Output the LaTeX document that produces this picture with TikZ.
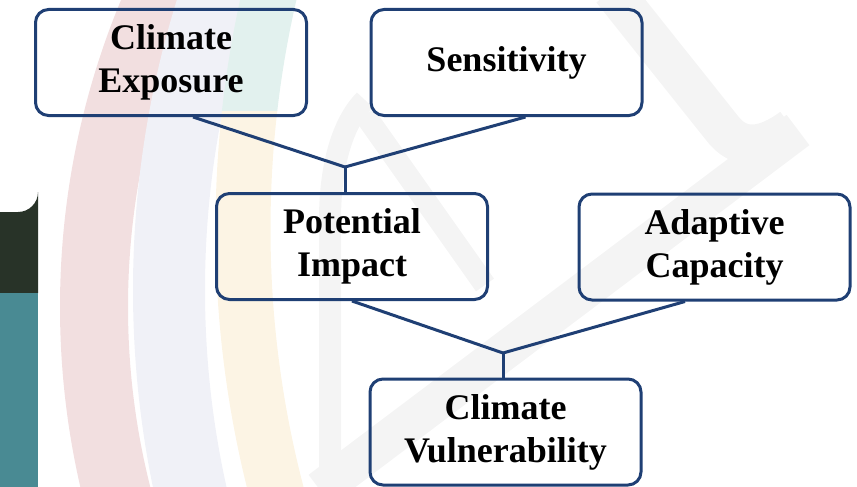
\documentclass[tikz,border=0pt]{standalone}
\usepackage{fontspec}
\setmainfont{Liberation Serif}
\usetikzlibrary{calc}
\definecolor{edgeblue}{HTML}{1F3F74}
\definecolor{wmpink}{HTML}{F2DFE0}
\definecolor{wmblue}{HTML}{F0F1F7}
\definecolor{wmyellow}{HTML}{FCF4E4}
\definecolor{wmteal}{HTML}{E2F1EE}
\definecolor{wmgray}{HTML}{F4F4F4}
\definecolor{blockdark}{HTML}{283328}
\definecolor{blockteal}{HTML}{498A93}
\begin{document}
\begin{tikzpicture}[x=1pt,y=-1pt,
  box/.style={draw=edgeblue, line width=3pt, rounded corners=13pt,
    minimum width=271pt, minimum height=106pt, align=center, inner sep=0pt,
    font=\fontsize{36}{43}\selectfont\bfseries},
  conn/.style={draw=edgeblue, line width=3pt},
  band/.style={line width=#1, line cap=butt}]
\useasboundingbox (0,0) rectangle (857,487);
\begin{scope}
\clip (0,0) rectangle (857,487);
% watermark rings
\draw[wmpink, band=68pt] (860,307) circle[radius=766pt];
\draw[wmblue, band=72pt] (1109,290) circle[radius=940pt];
\begin{scope}
\clip (0,110) rectangle (857,487);
\draw[wmyellow, band=55pt] (1286,229) circle[radius=1043pt];
\end{scope}
\begin{scope}
\clip (0,0) rectangle (857,110);
\draw[wmteal, band=55pt] (1286,229) circle[radius=1043pt];
\end{scope}
% watermark grey strokes
\draw[wmgray, band=40pt, line join=round] (612,-10) -- (722,128) .. controls (740,152) and (765,148) .. (792,128);
\draw[wmgray, band=38pt] (798,130) -- (320,490);
\draw[wmgray, band=22pt] (330,490) -- (330,220) .. controls (330,160) and (345,120) .. (365,100);
\draw[wmgray, band=22pt] (365,115) -- (485,285);
% left block
\fill[blockdark] (0,212) -- (18,212) arc[start angle=90, end angle=0, radius=20] -- (38,293) -- (0,293) -- cycle;
\fill[blockteal] (0,293) rectangle (38,490);
\end{scope}

% boxes
\node[box] (ce) at (171,62.5) {Climate\\Exposure};
\node[box] (se) at (506.5,62.5) {Sensitivity};
\node[box] (pi) at (352,246.5) {Potential\\Impact};
\node[box] (ac) at (714.5,247) {Adaptive\\Capacity};
\node[box] (cv) at (505.5,432) {Climate\\Vulnerability};

% junctions
\coordinate (j1) at (345,167);
\coordinate (j2) at (503,353);

% connectors
\draw[conn] ([xshift=22pt]ce.south) -- (j1);
\draw[conn] ([xshift=19pt]se.south) -- (j1);
\draw[conn] (j1) -- (j1 |- pi.north);
\draw[conn] (pi.south) -- (j2);
\draw[conn] ([xshift=-29.5pt]ac.south) -- (j2);
\draw[conn] (j2) -- (j2 |- cv.north);
\end{tikzpicture}
\end{document}
